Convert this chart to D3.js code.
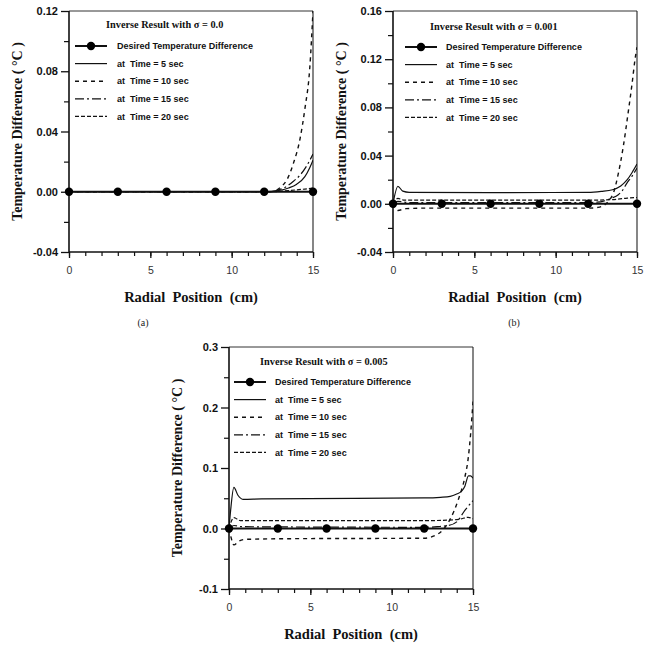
<!DOCTYPE html>
<html><head><meta charset="utf-8">
<script src="https://cdn.jsdelivr.net/npm/d3@7/dist/d3.min.js"></script>
<style>
body{margin:0;background:#fff;}
svg{display:block;}
text{white-space:pre;}
</style></head>
<body>
<svg id="chart" width="651" height="652"></svg>
<script>
// ---------- DATA ----------
const desiredX = [0, 3, 6, 9, 12, 15];
const xTickValues = [0, 5, 10, 15];
const xTickLabels = ["0", "5", "10", "15"];
const seriesNames = ["Desired Temperature Difference", "at  Time = 5 sec", "at  Time = 10 sec", "at  Time = 15 sec", "at  Time = 20 sec"];

// Panel (a): sigma = 0.0
const aTitle = "Inverse Result with \u03c3 = 0.0";
const aYTicks = [0.12, 0.08, 0.04, 0.00, -0.04];
const aYLabels = ["0.12", "0.08", "0.04", "0.00", "-0.04"];
const aT5  = [[0,0],[12,0],[12.5,0.0003],[13,0.001],[13.5,0.0025],[14,0.005],[14.5,0.01],[14.8,0.016],[15,0.021]];
const aT10 = [[0,0],[12.4,0],[13,0.003],[13.4,0.008],[13.8,0.019],[14.2,0.035],[14.5,0.055],[14.8,0.082],[15,0.12]];
const aT15 = [[0,0],[12.3,0],[12.8,0.001],[13.3,0.003],[13.8,0.007],[14.2,0.011],[14.6,0.017],[15,0.025]];
const aT20 = [[0,0],[12.5,0],[13.5,0.0008],[14.5,0.0018],[15,0.0025]];

// Panel (b): sigma = 0.001
const bTitle = "Inverse Result with \u03c3 = 0.001";
const bYTicks = [0.16, 0.12, 0.08, 0.04, 0.00, -0.04];
const bYLabels = ["0.16", "0.12", "0.08", "0.04", "0.00", "-0.04"];
const bT5  = [[0,0],[0.3,0.0145],[0.6,0.0105],[1,0.0095],[6,0.0093],[12,0.0095],[12.8,0.0103],[13.5,0.0117],[14,0.0148],[14.4,0.02],[14.7,0.026],[15,0.033]];
const bT10 = [[0,0],[0.3,-0.0055],[0.8,-0.004],[2,-0.0036],[12,-0.0036],[12.6,-0.003],[13,-0.001],[13.3,0.003],[13.55,0.009],[13.85,0.025],[14.15,0.047],[14.45,0.075],[14.7,0.1],[14.88,0.12],[15,0.13]];
const bT15 = [[0,0],[0.3,0.002],[1,0.001],[12,0.001],[12.5,0.0013],[12.9,0.002],[13.4,0.0045],[13.85,0.0075],[14.1,0.011],[14.37,0.017],[14.7,0.023],[15,0.0297]];
const bT20 = [[0,0],[0.3,0.0045],[0.7,0.003],[12,0.003],[13,0.0032],[13.8,0.0038],[14.4,0.0047],[15,0.0052]];

// Panel (c): sigma = 0.005
const cTitle = "Inverse Result with \u03c3 = 0.005";
const cYTicks = [0.3, 0.2, 0.1, 0.0, -0.1];
const cYLabels = ["0.3", "0.2", "0.1", "0.0", "-0.1"];
const cT5  = [[0,0],[0.1,0.03],[0.3,0.068],[0.55,0.055],[0.9,0.048],[2,0.049],[12,0.0505],[13,0.0515],[13.6,0.053],[14,0.057],[14.3,0.0617],[14.5,0.07],[14.72,0.087],[14.85,0.087],[15,0.083]];
const cT10 = [[0,0],[0.1,-0.012],[0.3,-0.027],[0.6,-0.021],[1,-0.018],[3,-0.017],[12,-0.016],[12.56,-0.0127],[13.17,-0.0017],[13.59,0.015],[14.1,0.048],[14.5,0.085],[14.7,0.115],[14.85,0.155],[15,0.21]];
const cT15 = [[0,0],[0.3,0.005],[0.8,0.003],[12,0.002],[12.8,0.003],[13.5,0.005],[14,0.011],[14.5,0.03],[15,0.046]];
const cT20 = [[0,0],[0.3,0.018],[0.7,0.013],[12,0.013],[13.5,0.0138],[14.2,0.0155],[14.7,0.0185],[15,0.016]];

// ---------- LAYOUT ----------
const panels = [
  {title:aTitle, yTicks:aYTicks, yLabels:aYLabels, series:[aT5,aT10,aT15,aT20], caption:"(a)", capX:143,
   box:{l:69,r:313,t:11,b:252}, leg:{tx:37,ty:17, lx0:6, lx1:38, txt:48, ry:35}},
  {title:bTitle, yTicks:bYTicks, yLabels:bYLabels, series:[bT5,bT10,bT15,bT20], caption:"(b)", capX:514,
   box:{l:393,r:637,t:11,b:252}, leg:{tx:37,ty:19, lx0:12, lx1:44, txt:53, ry:36}},
  {title:cTitle, yTicks:cYTicks, yLabels:cYLabels, series:[cT5,cT10,cT15,cT20], caption:null, capX:0,
   box:{l:229,r:473,t:347,b:589}, leg:{tx:31,ty:18, lx0:5, lx1:37, txt:46, ry:35}}
];
const dashes = [null, "4,4", "9,3,2,3", "4,2"];
const widths = [1.2, 1.4, 1.2, 1.2];
const serif = "'Liberation Serif','Times New Roman',serif";
const sans = "'Liberation Sans',Arial,sans-serif";

const svg = d3.select("#chart");

panels.forEach(p => {
  const B = p.box;
  const yMin = p.yTicks[p.yTicks.length-1], yMax = p.yTicks[0];
  const x = d3.scaleLinear().domain([0,15]).range([B.l, B.r]);
  const y = d3.scaleLinear().domain([yMin, yMax]).range([B.b, B.t]);
  const g = svg.append("g");

  // minor y ticks (midpoints)
  const step = p.yTicks[0]-p.yTicks[1];
  const yMinor = d3.range(p.yTicks.length-1).map(i => p.yTicks[i] - step/2);
  g.append("g").attr("transform",`translate(${B.l},0)`)
    .call(d3.axisLeft(y).tickValues(yMinor).tickSize(5).tickSizeOuter(0).tickFormat(""))
    .call(s=>s.select(".domain").remove())
    .selectAll("line").attr("stroke","#111").attr("stroke-width",1.2);
  // major y ticks
  const ya = g.append("g").attr("transform",`translate(${B.l},0)`)
    .call(d3.axisLeft(y).tickValues(p.yTicks).tickSize(8).tickSizeOuter(0).tickPadding(3)
      .tickFormat((d,i)=>p.yLabels[i]));
  ya.select(".domain").remove();
  ya.selectAll("line").attr("stroke","#111").attr("stroke-width",1.3);
  ya.selectAll("text").attr("font-family",sans).attr("font-weight","bold").attr("font-size",11).attr("fill","#111");

  // x minor ticks
  g.append("g").attr("transform",`translate(0,${B.b})`)
    .call(d3.axisBottom(x).tickValues(d3.range(0,16)).tickSize(4).tickSizeOuter(0).tickFormat(""))
    .call(s=>s.select(".domain").remove())
    .selectAll("line").attr("stroke","#111").attr("stroke-width",1.2);
  const xa = g.append("g").attr("transform",`translate(0,${B.b})`)
    .call(d3.axisBottom(x).tickValues(xTickValues).tickSize(6).tickSizeOuter(0).tickPadding(9)
      .tickFormat((d,i)=>xTickLabels[i]));
  xa.select(".domain").remove();
  xa.selectAll("line").attr("stroke","#111").attr("stroke-width",1.3);
  xa.selectAll("text").attr("font-family",sans).attr("font-size",10.5).attr("fill","#333");

  // frame
  g.append("line").attr("x1",B.l).attr("x2",B.r).attr("y1",B.t).attr("y2",B.t).attr("stroke","#333").attr("stroke-width",1);
  g.append("line").attr("x1",B.r).attr("x2",B.r).attr("y1",B.t).attr("y2",B.b).attr("stroke","#222").attr("stroke-width",1.1);
  g.append("line").attr("x1",B.l).attr("x2",B.l).attr("y1",B.t).attr("y2",B.b).attr("stroke","#111").attr("stroke-width",1.6);
  g.append("line").attr("x1",B.l).attr("x2",B.r).attr("y1",B.b).attr("y2",B.b).attr("stroke","#111").attr("stroke-width",1.6);

  // clip
  const cid = "clip"+B.l;
  svg.append("clipPath").attr("id",cid).append("rect").attr("x",B.l).attr("y",B.t).attr("width",B.r-B.l).attr("height",B.b-B.t);

  const line = d3.line().x(d=>x(d[0])).y(d=>y(d[1])).curve(d3.curveMonotoneX);
  const plot = g.append("g").attr("clip-path",`url(#${cid})`);
  // desired
  plot.append("path").datum(desiredX.map(v=>[v,0])).attr("d",d3.line().x(d=>x(d[0])).y(d=>y(d[1])))
    .attr("fill","none").attr("stroke","#111").attr("stroke-width",2);
  p.series.forEach((s,i)=>{
    plot.append("path").datum(s).attr("d",line).attr("fill","none")
      .attr("stroke","#111").attr("stroke-width",widths[i])
      .attr("stroke-dasharray",dashes[i]);
  });
  g.selectAll("circle.m").data(desiredX).enter().append("circle")
    .attr("cx",d=>x(d)).attr("cy",y(0)).attr("r",4.2).attr("fill","#000");

  // legend
  const L = p.leg;
  g.append("text").attr("x",B.l+L.tx).attr("y",B.t+L.ty).text(p.title)
    .attr("font-family",serif).attr("font-weight","bold").attr("font-size",10.3).attr("fill","#111");
  seriesNames.forEach((nm,i)=>{
    const yy = B.t + L.ry + i*17.6;
    if(i===0){
      g.append("line").attr("x1",B.l+L.lx0).attr("x2",B.l+L.lx1).attr("y1",yy).attr("y2",yy)
        .attr("stroke","#111").attr("stroke-width",2);
      g.append("circle").attr("cx",B.l+(L.lx0+L.lx1)/2).attr("cy",yy).attr("r",4.2).attr("fill","#000");
    } else {
      g.append("line").attr("x1",B.l+L.lx0).attr("x2",B.l+L.lx1).attr("y1",yy).attr("y2",yy)
        .attr("stroke","#111").attr("stroke-width",widths[i-1]).attr("stroke-dasharray",dashes[i-1]);
    }
    g.append("text").attr("x",B.l+L.txt).attr("y",yy+3.2).text(nm)
      .attr("font-family",sans).attr("font-weight","bold").attr("font-size",9).attr("fill","#111");
  });

  // axis titles
  const cx = (B.l+B.r)/2;
  g.append("text").attr("x",cx).attr("y",B.b+50).attr("text-anchor","middle")
    .text("Radial  Position  (cm)").attr("font-family",serif).attr("font-weight","bold").attr("font-size",14.5).attr("fill","#111");
  g.append("text").attr("transform",`translate(${B.l-47},${(B.t+B.b)/2}) rotate(-90)`).attr("text-anchor","middle")
    .text("Temperature Difference ( \u00b0C )").attr("font-family",serif).attr("font-weight","bold").attr("font-size",14).attr("fill","#111");
  if(p.caption){
    g.append("text").attr("x",p.capX).attr("y",B.b+74).attr("text-anchor","middle")
      .text(p.caption).attr("font-family",serif).attr("font-size",10).attr("fill","#222");
  }
});
</script>
</body></html>
